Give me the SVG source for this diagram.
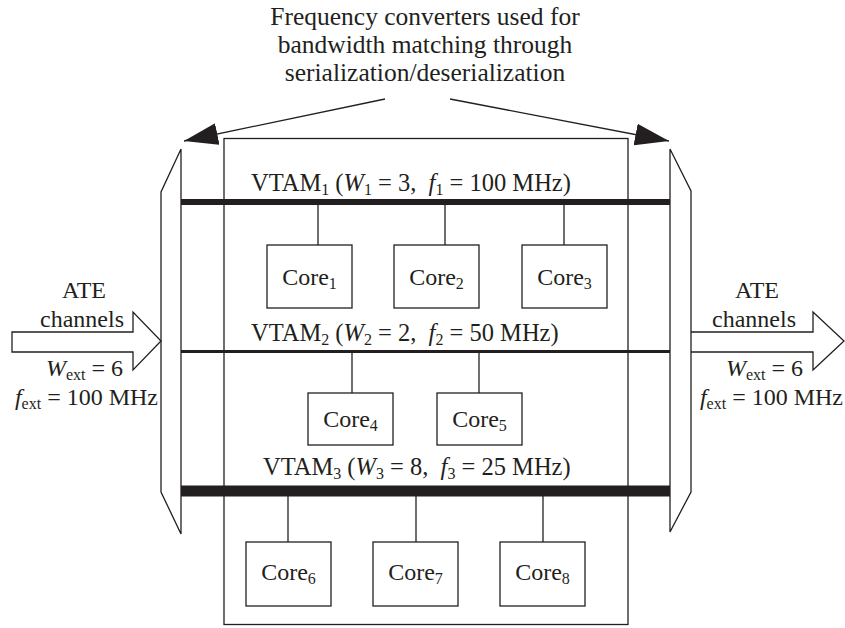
<svg xmlns="http://www.w3.org/2000/svg" width="845" height="628" viewBox="0 0 845 628">
<style>
text{font-family:"Liberation Serif","Times New Roman",serif;font-size:24px;fill:#231f20}
.t{font-size:25.5px}
.v{font-size:24.5px}
.sub{font-size:16px}
.i{font-style:italic}
.ln{stroke:#231f20;stroke-width:1.3;fill:none}
.box{stroke:#231f20;stroke-width:1.3;fill:#fff}
.mid{text-anchor:middle}
.end{text-anchor:end}
</style>
<defs>
<marker id="ah" viewBox="0 0 34 22" refX="34" refY="11" markerWidth="34" markerHeight="22" markerUnits="userSpaceOnUse" orient="auto">
<path d="M0,0 L34,11 L0,22 z" fill="#231f20"/>
</marker>
</defs>
<rect width="845" height="628" fill="#fff"/>

<g id="title">
<text class="t mid" x="425" y="25">Frequency converters used for</text>
<text class="t mid" x="425" y="53">bandwidth matching through</text>
<text class="t mid" x="425" y="81">serialization/deserialization</text>
</g>

<g id="soc">
<rect class="ln" x="224" y="138.5" width="404" height="486"/>
</g>

<g id="converter-left">
<polyline class="ln" points="181,149 161,192 161,492 181,534 181,149"/>
</g>
<g id="converter-right">
<polyline class="ln" points="670,149 691,191 691,492 670,532 670,149"/>
</g>

<g id="ate-in">
<polygon class="ln" points="12,332 133,332 133,312 161,341 133,370 133,352 12,352"/>
<text class="mid" x="84" y="298">ATE</text>
<text class="mid" x="82" y="327">channels</text>
<text class="end" x="123" y="376"><tspan class="i">W</tspan><tspan class="sub" dy="4">ext</tspan><tspan dy="-4"> = 6</tspan></text>
<text class="end" x="158" y="405"><tspan class="i">f</tspan><tspan class="sub" dy="4">ext</tspan><tspan dy="-4"> = 100 MHz</tspan></text>
</g>

<g id="ate-out">
<polyline class="ln" points="691,332 813,332 813,312 844,341 813,370 813,352 691,352"/>
<text class="mid" x="757" y="298">ATE</text>
<text class="mid" x="754" y="327">channels</text>
<text class="end" x="803" y="376"><tspan class="i">W</tspan><tspan class="sub" dy="4">ext</tspan><tspan dy="-4"> = 6</tspan></text>
<text class="end" x="843" y="405"><tspan class="i">f</tspan><tspan class="sub" dy="4">ext</tspan><tspan dy="-4"> = 100 MHz</tspan></text>
</g>

<g id="vtam1">
<line x1="181" y1="202" x2="670" y2="202" stroke="#231f20" stroke-width="6"/>
<text class="v" x="251" y="191" xml:space="preserve">VTAM<tspan class="sub" dy="4">1</tspan><tspan dy="-4"> (</tspan><tspan class="i">W</tspan><tspan class="sub" dy="4">1</tspan><tspan dy="-4"> = 3,  </tspan><tspan class="i">f</tspan><tspan class="sub" dy="4">1</tspan><tspan dy="-4"> = 100 MHz)</tspan></text>
</g>
<g id="vtam2">
<line x1="181" y1="351.5" x2="670" y2="351.5" stroke="#231f20" stroke-width="3"/>
<text class="v" x="251" y="341" xml:space="preserve">VTAM<tspan class="sub" dy="4">2</tspan><tspan dy="-4"> (</tspan><tspan class="i">W</tspan><tspan class="sub" dy="4">2</tspan><tspan dy="-4"> = 2,  </tspan><tspan class="i">f</tspan><tspan class="sub" dy="4">2</tspan><tspan dy="-4"> = 50 MHz)</tspan></text>
</g>
<g id="vtam3">
<line x1="181" y1="491" x2="670" y2="491" stroke="#231f20" stroke-width="11"/>
<text class="v" x="263" y="475" xml:space="preserve">VTAM<tspan class="sub" dy="4">3</tspan><tspan dy="-4"> (</tspan><tspan class="i">W</tspan><tspan class="sub" dy="4">3</tspan><tspan dy="-4"> = 8,  </tspan><tspan class="i">f</tspan><tspan class="sub" dy="4">3</tspan><tspan dy="-4"> = 25 MHz)</tspan></text>
</g>

<g id="connectors">
<line class="ln" x1="385" y1="99" x2="184" y2="141" stroke-width="1.6" marker-end="url(#ah)"/>
<line class="ln" x1="450" y1="99" x2="669" y2="141" stroke-width="1.6" marker-end="url(#ah)"/>
<line class="ln" x1="318" y1="205" x2="318" y2="245"/>
<line class="ln" x1="445" y1="205" x2="445" y2="245"/>
<line class="ln" x1="564" y1="205" x2="564" y2="245"/>
<line class="ln" x1="352" y1="353" x2="352" y2="393"/>
<line class="ln" x1="479" y1="353" x2="479" y2="393"/>
<line class="ln" x1="288" y1="496" x2="288" y2="542"/>
<line class="ln" x1="416" y1="496" x2="416" y2="542"/>
<line class="ln" x1="543" y1="496" x2="543" y2="542"/>
</g>

<g id="core1"><rect class="box" x="267" y="245" width="85" height="63"/><text class="mid" x="309.5" y="285">Core<tspan class="sub" dy="4">1</tspan></text></g>
<g id="core2"><rect class="box" x="394" y="245" width="85" height="63"/><text class="mid" x="436.5" y="285">Core<tspan class="sub" dy="4">2</tspan></text></g>
<g id="core3"><rect class="box" x="522" y="245" width="85" height="63"/><text class="mid" x="564.5" y="285">Core<tspan class="sub" dy="4">3</tspan></text></g>
<g id="core4"><rect class="box" x="308" y="393" width="85" height="52"/><text class="mid" x="350.5" y="427">Core<tspan class="sub" dy="4">4</tspan></text></g>
<g id="core5"><rect class="box" x="437" y="393" width="85" height="52"/><text class="mid" x="479.5" y="427">Core<tspan class="sub" dy="4">5</tspan></text></g>
<g id="core6"><rect class="box" x="246" y="542" width="85" height="64"/><text class="mid" x="288.5" y="580">Core<tspan class="sub" dy="4">6</tspan></text></g>
<g id="core7"><rect class="box" x="373" y="542" width="85" height="64"/><text class="mid" x="415.5" y="580">Core<tspan class="sub" dy="4">7</tspan></text></g>
<g id="core8"><rect class="box" x="500" y="542" width="85" height="64"/><text class="mid" x="542.5" y="580">Core<tspan class="sub" dy="4">8</tspan></text></g>
</svg>
